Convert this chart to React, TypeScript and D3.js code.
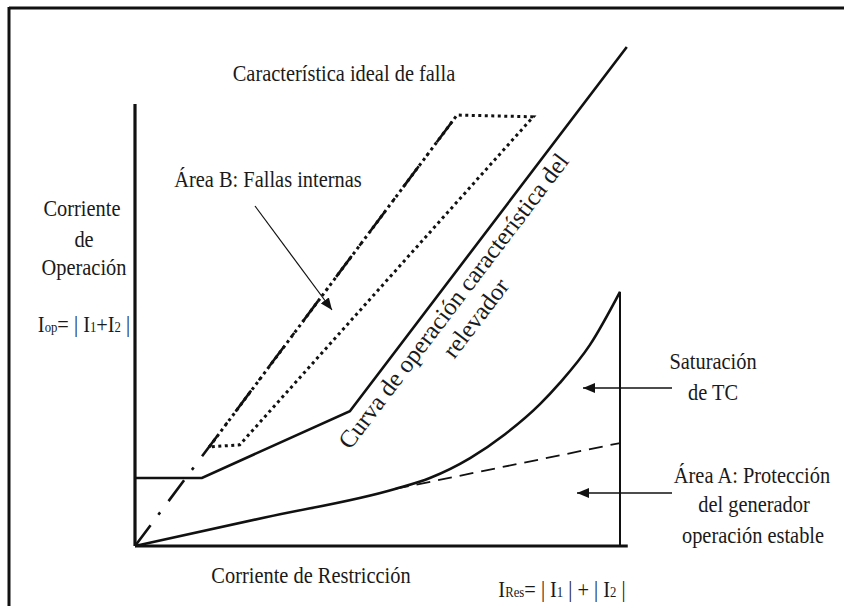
import React from 'react';
import * as d3 from 'd3';

// curve values, in axis units (0..100 on both axes)
const relayCurve: [number, number][] = [[0, 15.4], [13.8, 15.4], [44.3, 30.5], [101.4, 112.9]];
const idealFault: [number, number][] = [[0, 0], [66.4, 97.5]];
const internalFaultArea: [number, number][] = [[15.3, 22.4], [66.4, 97.5], [82.1, 97.1], [21.6, 22.9], [15.3, 22.4]];
const ctSaturation: [number, number][] = [
  [0, 0], [27, 6.5], [53.6, 12.9], [60.8, 15.4], [69.1, 19.9], [76.3, 25.3],
  [83.5, 32.1], [87.6, 36.9], [93.8, 45.5], [100, 57.5],
];
const linearRestraint: [number, number][] = [[53.6, 12.9], [100, 23.3]];
const xAxisEnd = 101.6;
const yAxisEnd = 100;

const FONT = '"Liberation Serif", "DejaVu Serif", serif';

const T = ({ x, y, children, size = 24 }: { x: number; y: number; children: React.ReactNode; size?: number }) => (
  <text
    transform={`translate(${x},${y}) scale(0.85,1)`}
    textAnchor="middle"
    fontFamily={FONT}
    fontSize={size}
    fill="#1a1a1a"
  >
    {children}
  </text>
);

const Sub = ({ children }: { children: React.ReactNode }) => <tspan fontSize={15}>{children}</tspan>;

export default function App() {
  const x = d3.scaleLinear().domain([0, 100]).range([135, 620]);
  const y = d3.scaleLinear().domain([0, 100]).range([546, 104]);
  const line = d3.line<[number, number]>().x(d => x(d[0])).y(d => y(d[1]));
  const smooth = d3.line<[number, number]>().x(d => x(d[0])).y(d => y(d[1])).curve(d3.curveMonotoneX);

  // angle of the steep part of the relay curve, used for its label
  const [p1, p2] = [relayCurve[2], relayCurve[3]];
  const angle = (Math.atan2(y(p2[1]) - y(p1[1]), x(p2[0]) - x(p1[0])) * 180) / Math.PI;

  return (
    <svg width={844} height={606} style={{ position: 'absolute', left: 0, top: 0, background: '#fff' }}>
      <defs>
        <marker id="arr" viewBox="0 0 12 10" refX="12" refY="5" markerWidth="12" markerHeight="10"
          markerUnits="userSpaceOnUse" orient="auto">
          <path d="M0,0 L12,5 L0,10 Z" fill="#111" />
        </marker>
      </defs>

      {/* frame */}
      <line x1={9} y1={8} x2={844} y2={8} stroke="#111" strokeWidth={3} />
      <line x1={9} y1={7} x2={9} y2={606} stroke="#111" strokeWidth={3} />

      {/* axes */}
      <line x1={x(0)} y1={y(0)} x2={x(xAxisEnd)} y2={y(0)} stroke="#111" strokeWidth={3.2} />
      <line x1={x(0)} y1={y(0)} x2={x(0)} y2={y(yAxisEnd)} stroke="#111" strokeWidth={3.2} />
      <line x1={x(100)} y1={y(0)} x2={x(100)} y2={y(ctSaturation[ctSaturation.length - 1][1])} stroke="#111" strokeWidth={2} />

      {/* curves */}
      <path d={line(relayCurve) ?? ''} fill="none" stroke="#111" strokeWidth={2.6} />
      <path d={line(idealFault) ?? ''} fill="none" stroke="#111" strokeWidth={2.6} strokeDasharray="26,13,3,14" />
      <path d={line(internalFaultArea) ?? ''} fill="none" stroke="#111" strokeWidth={3} strokeDasharray="3,3.5" />
      <path d={smooth(ctSaturation) ?? ''} fill="none" stroke="#111" strokeWidth={2.6} />
      <path d={line(linearRestraint) ?? ''} fill="none" stroke="#111" strokeWidth={1.8} strokeDasharray="14,8" />

      {/* arrows */}
      <line x1={255} y1={206} x2={332} y2={310} stroke="#111" strokeWidth={1.2} markerEnd="url(#arr)" />
      <line x1={672} y1={388} x2={583} y2={388} stroke="#111" strokeWidth={1.6} markerEnd="url(#arr)" />
      <line x1={672} y1={493} x2={577} y2={493} stroke="#111" strokeWidth={1.6} markerEnd="url(#arr)" />

      {/* labels */}
      <T x={344} y={81}>Característica ideal de falla</T>
      <T x={268} y={187}>Área B: Fallas internas</T>
      <T x={82} y={216}>Corriente</T>
      <T x={84} y={247}>de</T>
      <T x={84} y={275}>Operación</T>
      <T x={84} y={332}>I<Sub>op</Sub>= |  I<Sub>1</Sub>+I<Sub>2</Sub> |</T>
      <T x={713} y={369}>Saturación</T>
      <T x={713} y={400}>de TC</T>
      <T x={752} y={483}>Área A: Protección</T>
      <T x={754} y={512}>del generador</T>
      <T x={753} y={543}>operación estable</T>
      <T x={311} y={583}>Corriente de Restricción</T>
      <T x={562} y={597}>I<Sub>Res</Sub>= |  I<Sub>1</Sub> | + |  I<Sub>2</Sub> |</T>

      <g transform={`translate(460,306) rotate(${angle})`}>
        <text textAnchor="middle" fontFamily={FONT} fontSize={24.5} fill="#1a1a1a">
          <tspan x={0} y={0}>Curva de operación característica del</tspan>
          <tspan x={0} y={28}>relevador</tspan>
        </text>
      </g>
    </svg>
  );
}
